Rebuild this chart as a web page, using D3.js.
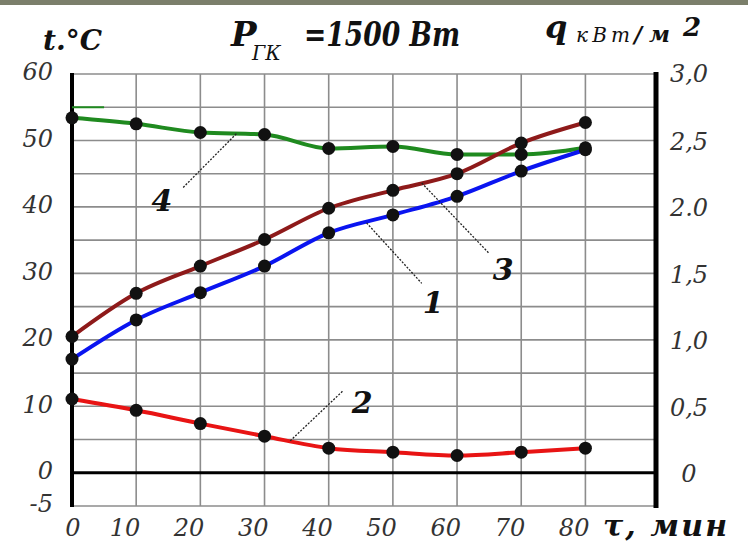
<!DOCTYPE html>
<html>
<head>
<meta charset="utf-8">
<script src="https://cdn.jsdelivr.net/npm/d3@7"></script>
<style>
  html, body { margin: 0; padding: 0; background: #fff; }
  svg { display: block; }
  svg text { font-family: "DejaVu Serif", "Liberation Serif", serif; font-style: italic; }
</style>
</head>
<body>
<svg id="chart" width="748" height="550"></svg>
<script>
// ---- data ----
const times = [0, 10, 20, 30, 40, 50, 60, 70, 80];
const curve1 = [17.1, 23.0, 27.1, 31.1, 36.1, 38.8, 41.6, 45.4, 48.6]; // blue
const curve2 = [11.1, 9.4, 7.4, 5.5, 3.7, 3.1, 2.6, 3.1, 3.7];         // red
const curve3 = [20.5, 27.0, 31.1, 35.1, 39.8, 42.5, 45.0, 49.6, 52.7]; // brown
const curve4 = [53.4, 52.5, 51.2, 50.9, 48.8, 49.1, 47.9, 47.9, 48.9]; // green
const greenStub = [[0, 55], [5, 55]];
const xTicks = [0, 10, 20, 30, 40, 50, 60, 70, 80];
const yTicks = [60, 50, 40, 30, 20, 10, 0, -5];
const qTicks = [3.0, 2.5, 2.0, 1.5, 1.0, 0.5, 0];
const qTickLabels = ["3,0", "2,5", "2.0", "1,5", "1,0", "0,5", "0"];
const gridY = [-5, 0, 5, 10, 15, 20, 25, 30, 35, 40, 45, 50, 55, 60];
const annotations = [
  { label: "4", from: [25.6, 51.0], to: [17.3, 42.9], text: [14.0, 41.0] },
  { label: "3", from: [54.5, 43.6], to: [65.0, 33.0], text: [67.2, 30.6] },
  { label: "1", from: [45.9, 37.6], to: [54.5, 28.5], text: [56.3, 25.6] },
  { label: "2", from: [34.0, 4.8],  to: [42.3, 12.4], text: [45.2, 10.6] }
];

// ---- layout ----
const svg = d3.select("#chart");
const x = d3.scaleLinear().domain([0, 91]).range([72, 656]);
const y = d3.scaleLinear().domain([-5, 60]).range([506, 74]);
const q = d3.scaleLinear().domain([-0.25, 3.0]).range([506, 74]);

svg.append("rect").attr("x", 0).attr("y", 0).attr("width", 748).attr("height", 5).attr("fill", "#7b7f6b");

// grid
const grid = svg.append("g");
grid.selectAll("line.h").data(gridY).join("line")
  .attr("x1", x(0)).attr("x2", x(91))
  .attr("y1", d => y(d)).attr("y2", d => y(d))
  .attr("stroke", "#8c8c8c").attr("stroke-width", 1.6);
grid.selectAll("line.v").data(xTicks.slice(1)).join("line")
  .attr("x1", d => x(d)).attr("x2", d => x(d))
  .attr("y1", y(60)).attr("y2", y(-5))
  .attr("stroke", "#8c8c8c").attr("stroke-width", 1.6);

// axes frame
svg.append("line").attr("x1", x(0)).attr("x2", x(91)).attr("y1", y(0)).attr("y2", y(0))
  .attr("stroke", "#000").attr("stroke-width", 3);
svg.append("line").attr("x1", x(0)).attr("x2", x(0)).attr("y1", y(60) - 1).attr("y2", y(-5) + 1)
  .attr("stroke", "#000").attr("stroke-width", 4);
svg.append("line").attr("x1", x(91)).attr("x2", x(91)).attr("y1", y(60) - 2).attr("y2", y(-5) + 2)
  .attr("stroke", "#000").attr("stroke-width", 5);

// tick labels
svg.append("g").selectAll("text").data(yTicks).join("text")
  .attr("x", 53).attr("y", d => y(d) - 2).attr("dy", "0.35em")
  .attr("text-anchor", "end").attr("font-size", 24).attr("fill", "#333").text(d => d);
svg.append("g").selectAll("text").data(qTicks).join("text")
  .attr("x", 689).attr("y", (d, i) => q(d) + (i === 0 ? 0 : 1)).attr("dy", "0.35em")
  .attr("text-anchor", "middle").attr("font-size", 24).attr("fill", "#333").text((d, i) => qTickLabels[i]);
svg.append("g").selectAll("text").data(xTicks).join("text")
  .attr("x", d => d === 0 ? x(d) + 1 : x(d) + 4).attr("y", 536)
  .attr("text-anchor", d => d === 0 ? "middle" : "end")
  .attr("font-size", 24).attr("fill", "#333").text(d => d);

// axis titles
const bi = sel => sel.attr("font-weight", "bold").attr("fill", "#111");
bi(svg.append("text").attr("x", 603).attr("y", 536).attr("font-size", 30)
  .attr("textLength", 124).attr("lengthAdjust", "spacing")).text("τ, мин");
bi(svg.append("text").attr("x", 43).attr("y", 50).attr("font-size", 28)).text("t.°C");
bi(svg.append("text").attr("x", 231).attr("y", 46).attr("font-size", 34)).text("Р");
svg.append("text").attr("x", 252).attr("y", 60).attr("font-size", 20).attr("fill", "#111").text("ГК");
bi(svg.append("text").attr("x", 304).attr("y", 46).attr("font-size", 34)
  .attr("textLength", 156).attr("lengthAdjust", "spacingAndGlyphs")).text("=1500 Вт");
bi(svg.append("text").attr("x", 545).attr("y", 38).attr("font-size", 32)).text("q");
svg.append("text").attr("x", 576).attr("y", 42).attr("font-size", 20).attr("fill", "#111")
  .attr("textLength", 54).attr("lengthAdjust", "spacing").text("кВт");
bi(svg.append("text").attr("x", 634).attr("y", 42).attr("font-size", 22)
  .attr("textLength", 36).attr("lengthAdjust", "spacing")).text("/м");
bi(svg.append("text").attr("x", 683).attr("y", 36).attr("font-size", 26)).text("2");

// curves
const line = d3.line().x(d => x(d[0])).y(d => y(d[1])).curve(d3.curveMonotoneX);
const series = [
  { vals: curve4, color: "#1f8a1f" },
  { vals: curve3, color: "#8e1a1a" },
  { vals: curve1, color: "#0a14f0" },
  { vals: curve2, color: "#e81414" }
];
svg.append("path").attr("d", d3.line().x(d => x(d[0])).y(d => y(d[1]))(greenStub))
  .attr("stroke", "#1f8a1f").attr("stroke-width", 2).attr("fill", "none");
series.forEach(s => {
  const pts = times.map((t, i) => [t, s.vals[i]]);
  svg.append("path").attr("d", line(pts)).attr("fill", "none")
    .attr("stroke", s.color).attr("stroke-width", 4).attr("stroke-linejoin", "round");
});
series.forEach(s => {
  svg.append("g").selectAll("circle").data(times.map((t, i) => [t, s.vals[i]])).join("circle")
    .attr("cx", d => x(d[0])).attr("cy", d => y(d[1])).attr("r", 6.5).attr("fill", "#111");
});

// annotations
annotations.forEach(a => {
  svg.append("line")
    .attr("x1", x(a.from[0])).attr("y1", y(a.from[1]))
    .attr("x2", x(a.to[0])).attr("y2", y(a.to[1]))
    .attr("stroke", "#222").attr("stroke-width", 1.3).attr("stroke-dasharray", "2,1.5");
  bi(svg.append("text").attr("x", x(a.text[0])).attr("y", y(a.text[1])).attr("dy", "0.35em")
    .attr("text-anchor", "middle").attr("font-size", 30)).text(a.label);
});
</script>
</body>
</html>
